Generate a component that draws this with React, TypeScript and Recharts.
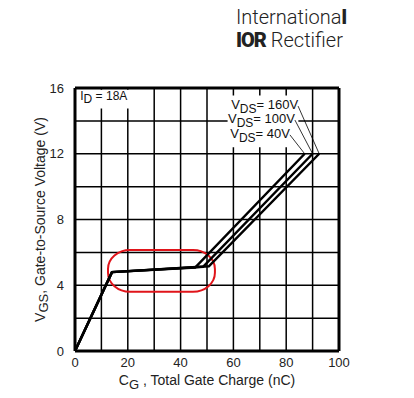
import {
  LineChart,
  Line,
  XAxis,
  YAxis,
  CartesianGrid,
  ReferenceLine,
  ReferenceDot,
  ReferenceArea,
  Label,
} from "recharts";

// gate charge curves, Qg (nC) vs Vgs (V)
const vds40 = [
  { q: 0, v: 0 },
  { q: 14, v: 4.8 },
  { q: 45.5, v: 5.08 },
  { q: 87, v: 12 },
];
const vds100 = [
  { q: 0, v: 0 },
  { q: 14, v: 4.8 },
  { q: 48.5, v: 5.12 },
  { q: 90, v: 12 },
];
const vds160 = [
  { q: 0, v: 0 },
  { q: 14, v: 4.8 },
  { q: 50.7, v: 5.15 },
  { q: 92.5, v: 12 },
];

const xTicks = [0, 10, 20, 30, 40, 50, 60, 70, 80, 90, 100];
const yTicks = [0, 2, 4, 6, 8, 10, 12, 14, 16];

// label anchor (nC, V) and the curve end the leader points to
const vdsLabels = [
  { text: "160V", q: 84.5, v: 14.9, endQ: 92.5 },
  { text: "100V", q: 83.3, v: 14.05, endQ: 90 },
  { text: "40V", q: 81.4, v: 13.15, endQ: 87 },
];

const font = "'Liberation Sans', Arial, sans-serif";

function VdsText({ viewBox, text }: any) {
  const x = viewBox.x + viewBox.width / 2;
  const y = viewBox.y + viewBox.height / 2;
  return (
    <text x={x} y={y + 3} textAnchor="end" fontFamily={font} fontSize={13} fill="#111">
      V
      <tspan fontSize={12} dy={4}>DS</tspan>
      <tspan dy={-4}>{"= " + text}</tspan>
    </text>
  );
}

function IdText({ viewBox }: any) {
  const x = viewBox.x + viewBox.width / 2;
  const y = viewBox.y + viewBox.height / 2;
  return (
    <text x={x} y={y} fontFamily={font} fontSize={12} fill="#111">
      I<tspan fontSize={12} dy={3}>D</tspan>
      <tspan dy={-3}> = 18A</tspan>
    </text>
  );
}

function YTitle({ viewBox }: any) {
  const cx = 41;
  const cy = viewBox.y + viewBox.height / 2;
  return (
    <text
      x={cx}
      y={cy}
      transform={`rotate(-90 ${cx} ${cy})`}
      textAnchor="middle"
      fontFamily={font}
      fontSize={14}
      fill="#222"
      dominantBaseline="middle"
    >
      V<tspan fontSize={13} dy={4}>GS</tspan>
      <tspan dy={-4}>, Gate-to-Source Voltage (V)</tspan>
    </text>
  );
}

function XTitle({ viewBox }: any) {
  const cx = viewBox.x + viewBox.width / 2;
  return (
    <text x={cx} y={385} textAnchor="middle" fontFamily={font} fontSize={14} fill="#222">
      C<tspan fontSize={13} dy={4}>G</tspan>
      <tspan dy={-4}> , Total Gate Charge (nC)</tspan>
    </text>
  );
}

function Loop({ x, y, width, height }: any) {
  return (
    <rect
      x={x}
      y={y}
      width={width}
      height={height}
      rx={22}
      ry={19}
      fill="none"
      stroke="#e0141a"
      strokeWidth={2}
    />
  );
}

export default function App() {
  return (
    <div style={{ position: "absolute", left: 0, top: 0, width: 414, height: 398, background: "#fff" }}>
      <div
        style={{
          position: "absolute",
          left: 236,
          top: 6,
          fontFamily: "Roboto, sans-serif",
          fontWeight: 300,
          fontSize: 20,
          color: "#222",
          lineHeight: "23px",
        }}
      >
        <div>
          Internationa<span style={{ fontWeight: 900 }}>l</span>
        </div>
        <div>
          <span style={{ fontWeight: 900, letterSpacing: -1 }}>IOR</span> Rectifier
        </div>
      </div>
      <LineChart
        width={414}
        height={398}
        margin={{ top: 88, right: 75, bottom: 0, left: 0 }}
        style={{ position: "absolute", left: 0, top: 0 }}
      >
        <CartesianGrid stroke="#000" strokeWidth={1.5} strokeOpacity={1} />
        <XAxis
          dataKey="q"
          type="number"
          domain={[0, 100]}
          ticks={xTicks}
          interval={0}
          tickFormatter={(t: number) => (t % 20 === 0 ? String(t) : "")}
          tickLine={false}
          axisLine={{ stroke: "#000", strokeWidth: 3 }}
          tick={{ fill: "#222", fontSize: 13, fontFamily: font }}
          tickMargin={1}
          height={47}
          allowDuplicatedCategory={false}
        >
          <Label content={<XTitle />} />
        </XAxis>
        <YAxis
          dataKey="v"
          type="number"
          domain={[0, 16]}
          ticks={yTicks}
          interval={0}
          tickFormatter={(t: number) => (t % 4 === 0 ? String(t) : "")}
          tickLine={false}
          axisLine={{ stroke: "#000", strokeWidth: 3 }}
          tick={{ fill: "#222", fontSize: 13, fontFamily: font }}
          tickMargin={5}
          width={75}
        >
          <Label content={<YTitle />} />
        </YAxis>
        {/* white boxes behind the annotations */}
        <ReferenceArea x1={57.8} x2={84.6} y1={12.4} y2={15.55} fill="#fff" fillOpacity={1} stroke="none" />
        <ReferenceArea x1={0.6} x2={23} y1={14.75} y2={15.9} fill="#fff" fillOpacity={1} stroke="none" />
        <ReferenceLine y={16} stroke="#000" strokeWidth={3} />
        <ReferenceLine x={100} stroke="#000" strokeWidth={3} />
        {vdsLabels.map((l) => (
          <ReferenceLine
            key={"ld" + l.text}
            segment={[
              { x: l.q, y: l.v },
              { x: l.endQ, y: 12 },
            ]}
            stroke="#000"
            strokeWidth={0.8}
          />
        ))}
        {vdsLabels.map((l) => (
          <ReferenceDot
            key={"lb" + l.text}
            x={l.q}
            y={l.v}
            r={0}
            fill="none"
            stroke="none"
            label={<VdsText text={l.text} />}
          />
        ))}
        <ReferenceDot x={2} y={15.3} r={0} fill="none" stroke="none" label={<IdText />} />
        <Line data={vds40} dataKey="v" stroke="#000" strokeWidth={2.5} dot={false} isAnimationActive={false} />
        <Line data={vds100} dataKey="v" stroke="#000" strokeWidth={2.5} dot={false} isAnimationActive={false} />
        <Line data={vds160} dataKey="v" stroke="#000" strokeWidth={2.5} dot={false} isAnimationActive={false} />
        <ReferenceArea x1={12.5} x2={53} y1={3.6} y2={6.15} shape={<Loop />} />
      </LineChart>
    </div>
  );
}
